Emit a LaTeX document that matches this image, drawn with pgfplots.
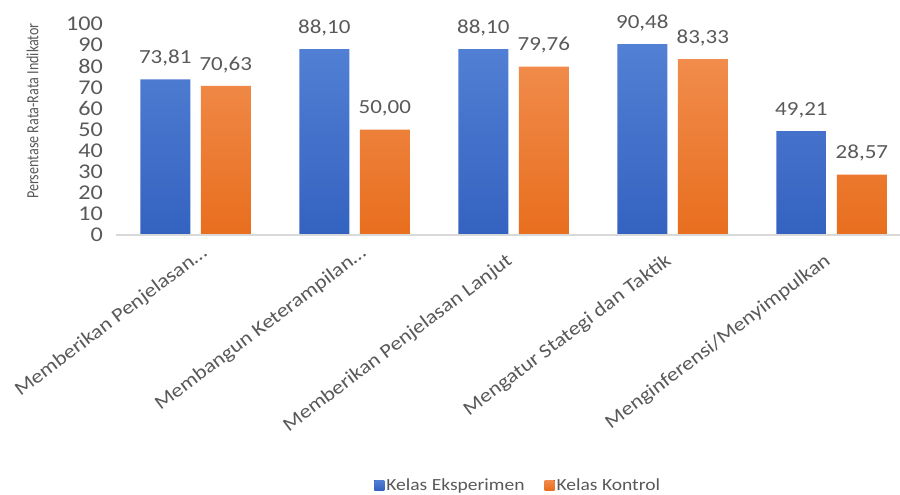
\documentclass[border=0pt]{standalone}
\usepackage{pgfplots}
\pgfplotsset{compat=1.18}
\usepackage{fontspec}
\setmainfont[FakeStretch=1.15]{Carlito}
\newfontfamily\yfont[FakeStretch=0.83]{Carlito}
\definecolor{blueTop}{RGB}{82,128,212}
\definecolor{blueBot}{RGB}{52,98,192}
\definecolor{orTop}{RGB}{241,140,76}
\definecolor{orBot}{RGB}{232,110,30}
\definecolor{txt}{RGB}{89,89,89}
\definecolor{axl}{RGB}{217,217,217}

\begin{document}
\begin{tikzpicture}
\begin{axis}[
    scale only axis,
    width=784bp, height=211bp,
    ybar=10.5bp, bar width=50bp,
    xmin=-0.5, xmax=4.43,
    ymin=0, ymax=100,
    % the two cut-off labels sit a little higher than the other three
    xtick={0,1},
    xticklabels={Memberikan Penjelasan…, Membangun Keterampilan…},
    xticklabel style={rotate=37, anchor=north east, inner sep=0pt, font=\fontsize{19.5bp}{22bp}\selectfont, text=txt},
    x tick label style={xshift=-2bp, yshift=-10bp},
    extra x ticks={2,3,4},
    extra x tick labels={Memberikan Penjelasan Lanjut, Mengatur Stategi dan Taktik, Menginferensi/Menyimpulkan},
    extra x tick style={xticklabel style={xshift=-15bp, yshift=1.5bp}},
    ytick={0,10,...,100},
    yticklabel style={inner sep=0pt, xshift=-13bp, font=\fontsize{21bp}{24bp}\selectfont, text=txt},
    /pgf/number format/assume math mode=true,
    major tick length=0pt,
    axis line style={draw=none},
    axis x line*=bottom, axis y line*=left,
    ylabel={Persentase Rata-Rata Indikator},
    ylabel style={at={(axis description cs:-0.1065,0.588)}, anchor=center, font=\yfont\fontsize{17bp}{19bp}\selectfont, text=txt},
    nodes near coords={\pgfmathprintnumber[fixed, fixed zerofill, precision=2, use comma]{\pgfplotspointmeta}},
    nodes near coords style={anchor=south, inner sep=0pt, yshift=13bp, font=\fontsize{20bp}{24bp}\selectfont, text=txt},
    legend columns=2,
    legend style={at={(axis description cs:0.513,-1.185)}, anchor=center, draw=none, fill=none,
        font=\fontsize{17bp}{20bp}\selectfont, text=txt,
        /tikz/every even column/.append style={column sep=18bp}},
    legend image code/.code={\fill[#1] (0bp,-5bp) rectangle (10bp,5bp);},
    clip=false,
]
\addplot[draw=none, top color=blueTop, bottom color=blueBot] coordinates {(0,73.81) (1,88.10) (2,88.10) (3,90.48) (4,49.21)};
\addplot[draw=none, top color=orTop, bottom color=orBot] coordinates {(0,70.63) (1,50.00) (2,79.76) (3,83.33) (4,28.57)};
\legend{Kelas Eksperimen, Kelas Kontrol}
\draw[axl, line width=1.5bp] (rel axis cs:0,0) -- (rel axis cs:1,0);
\coordinate (o) at (rel axis cs:0,0);
\end{axis}
\pgfresetboundingbox
\path (o) ++(-116bp,-260bp) rectangle ++(900bp,495bp);
\end{tikzpicture}
\end{document}
